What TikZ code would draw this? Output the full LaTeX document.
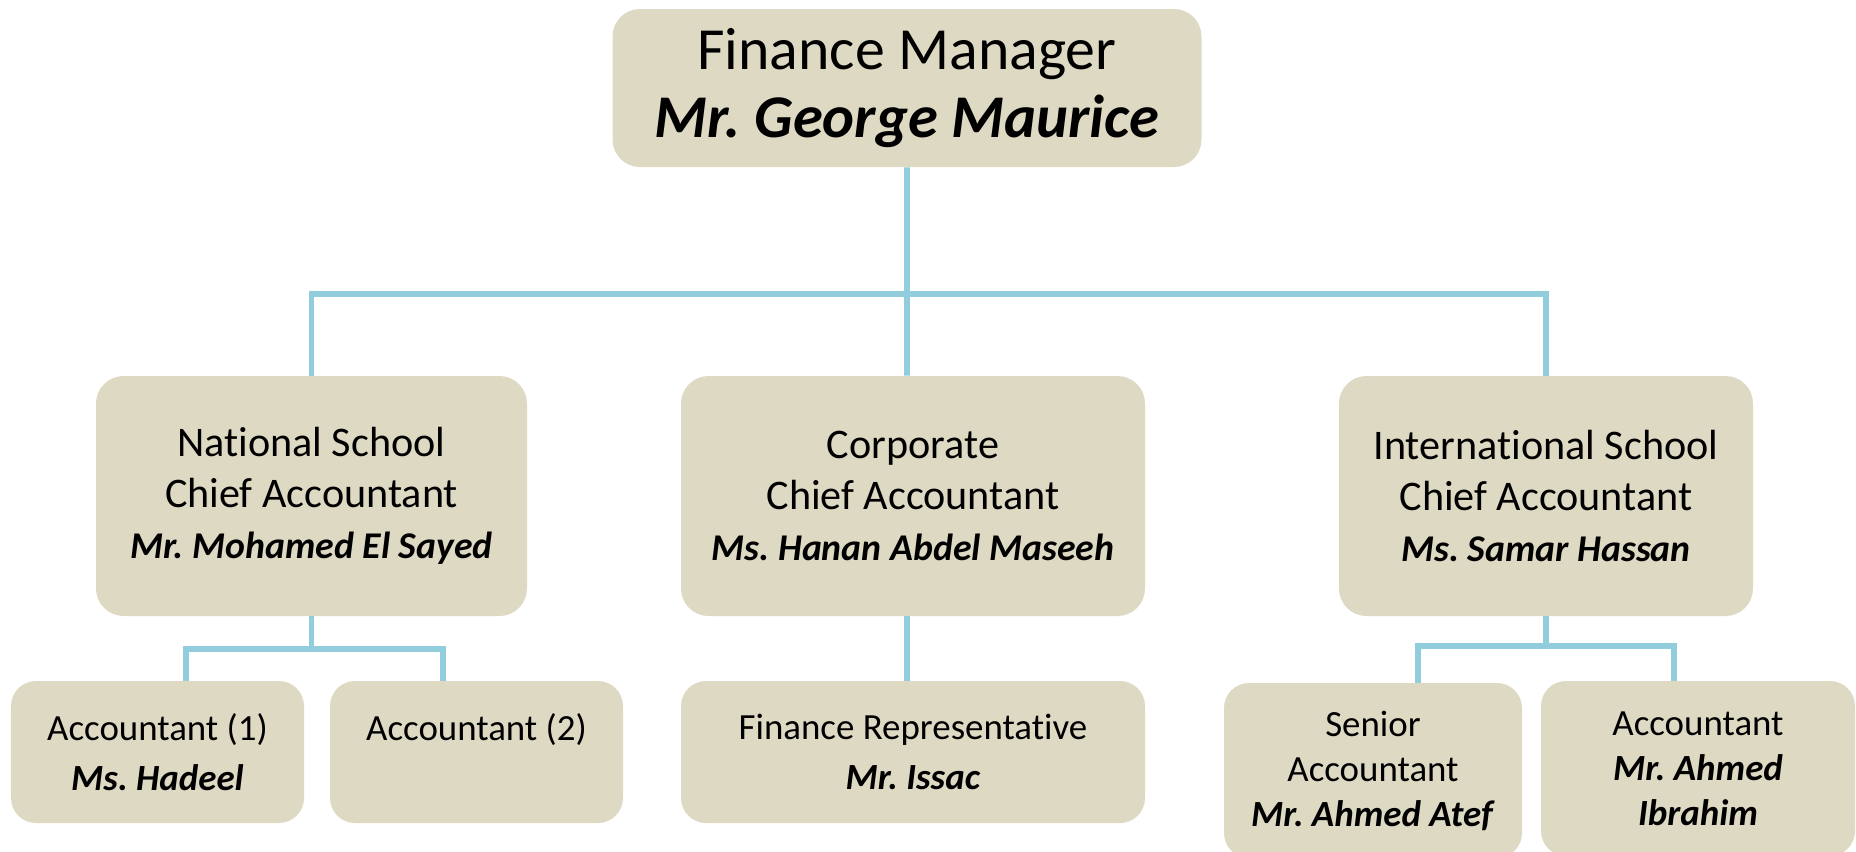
\documentclass[tikz,border=0pt]{standalone}
\usepackage{fontspec}
\setmainfont[Ligatures=NoCommon]{Carlito}
\usepackage{tikz}
\usetikzlibrary{positioning}
\definecolor{orgtan}{RGB}{221,217,195}
\definecolor{orgblue}{RGB}{146,205,221}
\newcommand{\who}[1]{\textbf{\textit{#1}}}
\frenchspacing
\tikzset{
  orgbox/.style={rectangle, rounded corners=0.55cm, fill=orgtan, align=center, inner sep=0pt},
  topbox/.style={orgbox, minimum width=11.78cm, minimum height=3.16cm, font=\fontsize{34}{39}\selectfont},
  chiefbox/.style={orgbox, minimum height=4.8cm, font=\fontsize{24}{29}\selectfont},
  staffbox/.style={orgbox, rounded corners=0.5cm, minimum height=2.84cm, font=\fontsize{21}{28.5}\selectfont},
  link/.style={draw=orgblue, line width=3.4pt}
}
\begin{document}
\begin{tikzpicture}
  \useasboundingbox (0,0) rectangle (37.12,-17.02);
  \clip (0,0) rectangle (37.12,-17.02);

  \node[topbox] (fm) at (18.14,-1.76) {Finance Manager\\ {\fontsize{34.5}{39}\selectfont\who{Mr. George Maurice}}};

  \node[chiefbox, minimum width=8.62cm] (nsca) at (6.23,-9.92) {National School\\ Chief Accountant\\ {\fontsize{21.5}{29}\selectfont\who{Mr. Mohamed El Sayed}}};
  \node[chiefbox, minimum width=9.28cm] (cca) at (18.26,-9.92) {Corporate\\ Chief Accountant\\ {\fontsize{21.5}{29}\selectfont\who{Ms. Hanan Abdel Maseeh}}};
  \node[chiefbox, minimum width=8.28cm] (isca) at (30.92,-9.92) {International School\\ Chief Accountant\\ {\fontsize{21.5}{29}\selectfont\who{Ms. Samar Hassan}}};

  \node[staffbox, minimum width=5.86cm] (acc1) at (3.15,-15.04) {Accountant (1)\\ \who{Ms. Hadeel}};
  \node[staffbox, minimum width=5.86cm] (acc2) at (9.53,-15.04) {Accountant (2)\\ \mbox{}};
  \node[staffbox, minimum width=9.28cm] (frep) at (18.26,-15.04) {Finance Representative\\ \who{Mr. Issac}};
  \node[staffbox, minimum width=5.96cm, minimum height=3.5cm, font=\fontsize{21}{25.6}\selectfont] (sacc) at (27.46,-15.41) {Senior\\ Accountant\\ \who{Mr. Ahmed Atef}};
  \node[staffbox, minimum width=6.28cm, minimum height=3.5cm, font=\fontsize{21}{25.6}\selectfont] (acc3) at (33.96,-15.37) {Accountant\\ \who{Mr. Ahmed}\\ \who{Ibrahim}};

  \coordinate (bus) at (18.14,-5.88);
  \draw[link] (fm.south) -- ([xshift=-0.12cm]cca.north);
  \draw[link] (nsca.north) |- (bus) -| (isca.north);
  \draw[link] ([xshift=-0.12cm]cca.south) -- ([xshift=-0.12cm]frep.north);

  \draw[link] (nsca.south) -- ++(0,-0.66) coordinate (njoin);
  \draw[link] ([xshift=0.57cm]acc1.north) |- (njoin) -| ([xshift=-0.67cm]acc2.north);

  \draw[link] (isca.south) -- ++(0,-0.6) coordinate (ijoin);
  \draw[link] ([xshift=0.9cm]sacc.north) |- (ijoin) -| ([xshift=-0.48cm]acc3.north);
\end{tikzpicture}
\end{document}
